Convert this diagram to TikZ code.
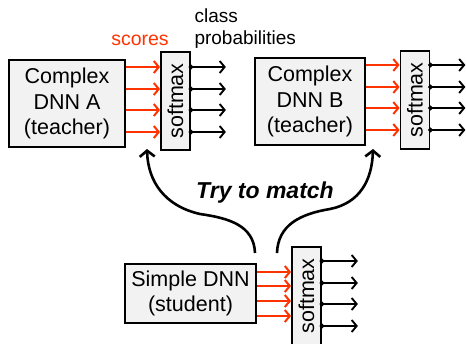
\documentclass[tikz,border=0pt]{standalone}
\usepackage{fontspec}
\setmainfont{Liberation Sans}
\usepackage{graphicx}
\usetikzlibrary{arrows.meta, positioning}
\definecolor{scorered}{RGB}{255,51,0}
\definecolor{boxgray}{RGB}{242,242,242}

\begin{document}
\begin{tikzpicture}[x=1pt, y=-1pt,
      dnn/.style={rectangle, draw=black, line width=2pt, fill=boxgray,
                  align=center, inner sep=0pt, font=\fontsize{21.5}{25.5}\selectfont},
      smbox/.style={rectangle, draw=black, line width=1.8pt, fill=boxgray,
                  minimum width=29pt, minimum height=98pt, inner sep=0pt,
                  font=\fontsize{21.5}{24}\selectfont},
      scorearr/.style={-{Straight Barb[length=5pt, width=12pt]}, line width=2pt, draw=scorered},
      probarr/.style={{Circle[length=4.5pt]}-{Straight Barb[length=5pt, width=12pt]},
                  line width=1.9pt, shorten <=-2.2pt},
      matcharr/.style={-{Straight Barb[length=6pt, width=15pt]}, line width=2.6pt}
    ]
    \useasboundingbox (0,0) rectangle (466,343);

    % teachers
    \node[dnn, minimum width=116pt, minimum height=87pt] (teachA) at (67,103.5) {Complex\\ DNN A\\ (teacher)};
    \node[smbox] (smA) at (175.5,101) {\rotatebox{90}{softmax}};
    \node[dnn, minimum width=110pt, minimum height=87pt] (teachB) at (310,101.5) {Complex\\ DNN B\\ (teacher)};
    \node[smbox] (smB) at (415,100) {\rotatebox{90}{softmax}};

    % student
    \node[dnn, minimum width=131pt, minimum height=59pt] (student) at (190.5,293.5) {Simple DNN\\ (student)};
    \node[smbox] (smS) at (306.5,296) {\rotatebox{90}{softmax}};

    % labels
    \node[text=scorered, font=\fontsize{19.5}{22}\selectfont] (scores) at (140,40) {scores};
    \node[anchor=west, align=left, font=\fontsize{19}{22}\selectfont] (probs) at (191,29) {class\\ probabilities};
    \node[font=\fontsize{23}{26}\bfseries\itshape\selectfont] (match) at (265,193) {Try to match};

    % scores and probabilities
    \foreach \y in {67,89,110,132} {
      \draw[scorearr] (teachA.east |- 0,\y) -- (smA.west |- 0,\y);
      \draw[probarr] (smA.east |- 0,\y) -- ++(35,0);
    }
    \foreach \y in {65,87,108,130} {
      \draw[scorearr] (teachB.east |- 0,\y) -- (smB.west |- 0,\y);
      \draw[probarr] (smB.east |- 0,\y) -- ++(35,0);
    }
    \foreach \y in {272,286,301,316}
      \draw[scorearr] (student.east |- 0,\y) -- (smS.west |- 0,\y);
    \foreach \y in {261,283,304,326}
      \draw[probarr] (smS.east |- 0,\y) -- ++(36,0);

    % matching
    \coordinate (fromA) at (255,253);
    \coordinate (toA) at (147,149);
    \coordinate (fromB) at (277,253);
    \coordinate (toB) at (373,149);
    \draw[matcharr] (fromA) .. controls (254,225) and (228,218) .. (200,214)
                            .. controls (165,206) and (148,182) .. (toA);
    \draw[matcharr] (fromB) .. controls (278,225) and (300,214) .. (330,209)
                            .. controls (360,203) and (372,180) .. (toB);
  \end{tikzpicture}
\end{document}
